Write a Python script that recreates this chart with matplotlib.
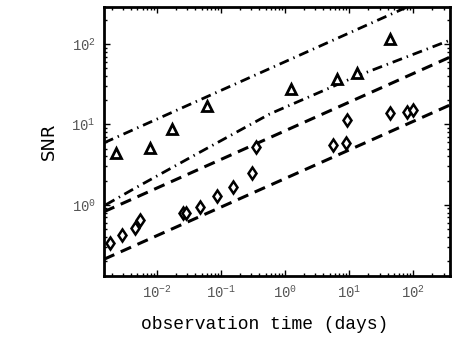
import math
import matplotlib
matplotlib.use("Agg")
from matplotlib import pyplot as plt
from matplotlib.ticker import LogLocator, FuncFormatter, NullFormatter

# triangles
tri_t = [0.0023, 0.0078, 0.017, 0.060, 1.24, 6.5, 13.3, 43.7]
tri_snr = [4.4, 5.1, 8.8, 17.0, 27.5, 36.7, 43.6, 115.0]

# diamonds
dia_t = [0.00185, 0.00284, 0.00453, 0.00542, 0.0255, 0.0284, 0.047, 0.0866,
         0.154, 0.305, 0.352, 5.6, 8.98, 9.3, 43.7, 80.5, 100.0]
dia_snr = [0.337, 0.424, 0.518, 0.651, 0.796, 0.80, 0.944, 1.29,
           1.67, 2.50, 5.25, 5.56, 5.89, 11.4, 13.9, 14.3, 15.1]

# model lines
upper_dd_t = [0.0015, 80.0]
upper_dd_snr = [5.9, 288.0]
lower_dd_t = [0.0016, 0.0042, 0.04, 0.58, 13.3, 380.0]
lower_dd_snr = [1.0, 1.55, 4.2, 13.5, 40.0, 112.0]
upper_dash_t = [0.0015, 380.0]
upper_dash_snr = [0.82, 69.0]
lower_dash_t = [0.0015, 380.0]
lower_dash_snr = [0.21, 17.5]

plt.rcParams["mathtext.default"] = "regular"

fig = plt.figure(figsize=(4.58, 3.45), dpi=100)
ax = fig.add_axes([0.227, 0.2, 0.756, 0.78])

dashdot = (0, (3.6, 1.8, 0.5, 1.8))
dash = (0, (3.7, 2.3))
ax.plot(upper_dd_t, upper_dd_snr, color="black", lw=2, linestyle=dashdot)
ax.plot(lower_dd_t, lower_dd_snr, color="black", lw=2, linestyle=dashdot)
ax.plot(upper_dash_t, upper_dash_snr, color="black", lw=2.2, linestyle=dash)
ax.plot(lower_dash_t, lower_dash_snr, color="black", lw=2.2, linestyle=dash)

ax.plot(tri_t, tri_snr, linestyle="none", marker="^", markersize=7,
        markerfacecolor="white", markeredgecolor="black", markeredgewidth=2)
ax.plot(dia_t, dia_snr, linestyle="none", marker="d", markersize=6.5,
        markerfacecolor="white", markeredgecolor="black", markeredgewidth=1.8)

ax.set_xscale("log")
ax.set_yscale("log")
ax.set_xlim(1.5e-3, 380)
ax.set_ylim(0.13, 290)

ax.xaxis.set_major_locator(LogLocator(base=10, numticks=12))
ax.yaxis.set_major_locator(LogLocator(base=10, numticks=12))
ax.xaxis.set_minor_locator(LogLocator(base=10, subs=range(2, 10), numticks=12))
ax.yaxis.set_minor_locator(LogLocator(base=10, subs=range(2, 10), numticks=12))
fmt = FuncFormatter(lambda v, p: "$10^{%d}$" % round(math.log10(v)))
ax.xaxis.set_major_formatter(fmt)
ax.yaxis.set_major_formatter(fmt)
ax.xaxis.set_minor_formatter(NullFormatter())
ax.yaxis.set_minor_formatter(NullFormatter())
ax.set_yticks([1, 10, 100])

ax.tick_params(which="both", direction="in", top=True, right=True, width=1)
ax.tick_params(which="major", length=4, pad=6, labelsize=10, labelcolor="#555555")
ax.tick_params(which="minor", length=2)
for lab in ax.get_xticklabels() + ax.get_yticklabels():
    lab.set_family("Liberation Mono")
for s in ax.spines.values():
    s.set_linewidth(2)

ax.set_xlabel("observation time (days)", family="Liberation Mono", fontsize=13)
ax.xaxis.set_label_coords(0.465, -0.15)
ax.set_ylabel("SNR", family="DejaVu Sans", fontsize=13, labelpad=10)

fig.savefig("out.png", dpi=100)
